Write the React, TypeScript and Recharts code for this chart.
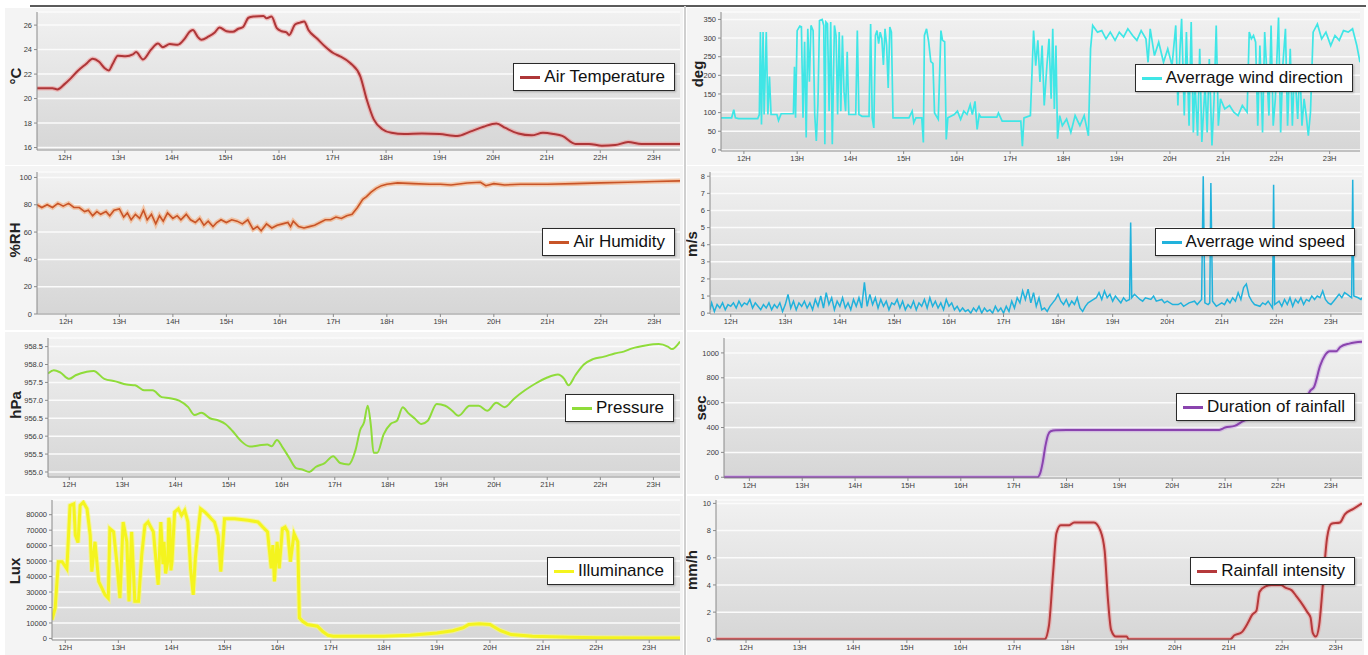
import { LineChart, Line, XAxis, YAxis, CartesianGrid } from 'recharts';

// hours shown on every x axis
const hourTicks = [12, 13, 14, 15, 16, 17, 18, 19, 20, 21, 22, 23];

const airTemperature: [number, number][] = [
  [11.48, 20.85], [11.77, 20.85], [11.86, 20.75], [12.0, 21.2], [12.11, 21.65], [12.24, 22.25], [12.39, 22.8],
  [12.52, 23.25], [12.64, 23.0], [12.74, 22.5], [12.82, 22.3], [12.89, 22.8], [12.99, 23.5], [13.14, 23.45],
  [13.27, 23.6], [13.33, 23.8], [13.46, 23.2], [13.61, 24.0], [13.74, 24.5], [13.83, 24.2], [13.96, 24.45],
  [14.11, 24.4], [14.24, 24.9], [14.33, 25.45], [14.39, 25.6], [14.49, 25.0], [14.55, 24.8], [14.68, 25.05],
  [14.8, 25.4], [14.89, 25.8], [15.02, 25.5], [15.14, 25.45], [15.24, 25.7], [15.33, 25.85], [15.43, 26.6],
  [15.52, 26.7], [15.71, 26.75], [15.77, 26.55], [15.86, 26.7], [15.96, 25.75], [16.05, 25.5], [16.14, 25.4],
  [16.19, 25.2], [16.3, 26.05], [16.39, 26.2], [16.47, 26.3], [16.55, 25.6], [16.71, 24.9], [16.86, 24.25],
  [17.02, 23.7], [17.14, 23.45], [17.33, 22.9], [17.52, 21.8], [17.64, 19.9], [17.77, 18.3], [17.93, 17.5],
  [18.1, 17.2], [18.34, 17.1], [18.67, 17.15], [19.0, 17.1], [19.33, 16.95], [19.57, 17.3], [19.82, 17.7],
  [20.06, 17.97], [20.23, 17.6], [20.47, 17.15], [20.72, 17.0], [20.93, 17.2], [21.13, 17.1], [21.29, 16.95],
  [21.54, 16.3], [21.79, 16.3], [22.03, 16.15], [22.28, 16.2], [22.52, 16.45], [22.77, 16.3], [23.1, 16.3],
  [23.49, 16.3],
];

const airHumidity: [number, number][] = [
  [11.46, 80], [11.55, 78], [11.65, 80], [11.75, 78], [11.85, 81], [11.95, 79], [12.05, 81], [12.15, 78],
  [12.25, 78], [12.35, 75], [12.42, 76], [12.5, 72], [12.58, 75], [12.65, 73], [12.75, 75], [12.82, 72],
  [12.9, 76], [13.0, 77], [13.08, 71], [13.15, 74], [13.22, 69], [13.3, 73], [13.38, 70], [13.45, 76],
  [13.52, 69], [13.6, 73], [13.68, 66], [13.75, 72], [13.82, 68], [13.9, 74], [14.0, 70], [14.08, 72],
  [14.15, 69], [14.25, 73], [14.33, 69], [14.42, 67], [14.5, 70], [14.58, 65], [14.66, 68], [14.75, 64],
  [14.82, 67], [14.9, 69], [15.0, 67], [15.1, 69], [15.2, 68], [15.3, 66], [15.4, 69], [15.5, 62],
  [15.58, 64], [15.65, 61], [15.75, 66], [15.85, 63], [15.95, 65], [16.05, 66], [16.15, 67], [16.2, 64],
  [16.25, 68], [16.35, 64], [16.45, 63], [16.55, 64], [16.65, 65], [16.75, 67], [16.85, 69], [16.95, 69],
  [17.05, 71], [17.15, 70], [17.25, 72], [17.35, 73], [17.45, 78], [17.55, 84], [17.62, 86], [17.7, 89],
  [17.8, 92], [17.9, 94], [18.0, 95], [18.2, 96], [18.5, 95.5], [18.8, 95], [19.0, 95], [19.2, 94.5],
  [19.5, 96], [19.75, 96.5], [19.85, 94], [20.0, 95.5], [20.2, 94.5], [20.5, 95], [21.0, 95], [21.5, 95.5],
  [22.0, 96], [22.5, 96.5], [23.0, 97], [23.48, 97.5],
];

const pressure: [number, number][] = [
  [11.6, 957.75], [11.71, 957.84], [11.83, 957.78], [12.0, 957.6], [12.12, 957.7], [12.33, 957.8],
  [12.46, 957.82], [12.66, 957.6], [12.87, 957.53], [13.08, 957.44], [13.24, 957.42], [13.41, 957.28],
  [13.57, 957.28], [13.74, 957.09], [13.9, 957.06], [14.07, 956.99], [14.24, 956.81], [14.36, 956.59],
  [14.49, 956.65], [14.65, 956.5], [14.82, 956.43], [14.94, 956.34], [15.07, 956.15], [15.23, 955.87],
  [15.4, 955.71], [15.56, 955.74], [15.73, 955.77], [15.81, 955.72], [15.91, 955.89], [16.02, 955.68],
  [16.14, 955.4], [16.27, 955.11], [16.39, 955.07], [16.52, 955.0], [16.64, 955.14], [16.81, 955.25],
  [16.97, 955.44], [17.1, 955.25], [17.26, 955.21], [17.39, 955.61], [17.48, 956.18], [17.55, 956.38],
  [17.62, 956.85], [17.68, 956.29], [17.73, 955.54], [17.8, 955.54], [17.92, 956.05], [18.05, 956.34],
  [18.17, 956.43], [18.28, 956.81], [18.38, 956.65], [18.5, 956.5], [18.63, 956.34], [18.75, 956.43],
  [18.92, 956.9], [19.08, 956.85], [19.21, 956.71], [19.33, 956.57], [19.54, 956.85], [19.71, 956.85],
  [19.87, 956.71], [20.04, 956.93], [20.2, 956.81], [20.37, 957.04], [20.58, 957.28], [20.78, 957.47],
  [20.99, 957.63], [21.2, 957.72], [21.32, 957.6], [21.4, 957.42], [21.53, 957.7], [21.69, 958.0],
  [21.86, 958.15], [22.07, 958.22], [22.27, 958.31], [22.44, 958.36], [22.6, 958.45], [22.85, 958.53],
  [23.1, 958.57], [23.27, 958.5], [23.35, 958.43], [23.5, 958.64],
];

const illuminance: [number, number][] = [
  [11.75, 12000], [11.81, 19700], [11.87, 49600], [11.94, 49600], [12.03, 45000], [12.09, 86000], [12.16, 87000],
  [12.19, 66700], [12.24, 62000], [12.28, 86000], [12.34, 88000], [12.41, 83800], [12.47, 66700], [12.5, 43200],
  [12.56, 62500], [12.63, 36800], [12.69, 32500], [12.75, 28200], [12.81, 26000], [12.84, 71000], [12.91, 68900],
  [12.97, 49600], [13.03, 26000], [13.09, 75300], [13.16, 62500], [13.2, 24000], [13.25, 68900], [13.31, 24000],
  [13.38, 24000], [13.44, 53900], [13.5, 73200], [13.56, 75300], [13.66, 68900], [13.75, 34700], [13.8, 75300],
  [13.84, 48000], [13.86, 62500], [13.89, 42000], [13.93, 49600], [13.95, 78000], [13.97, 73200], [13.99, 44000],
  [14.01, 49600], [14.06, 81700], [14.13, 83800], [14.19, 79600], [14.25, 82800], [14.31, 75300], [14.36, 45300],
  [14.41, 28200], [14.45, 51800], [14.5, 68900], [14.55, 83800], [14.63, 81700], [14.69, 79600], [14.75, 77400],
  [14.81, 75300], [14.88, 66700], [14.93, 43200], [14.97, 62500], [15.0, 77400], [15.19, 77400], [15.44, 76400],
  [15.63, 75300], [15.72, 72000], [15.81, 68900], [15.88, 45300], [15.91, 60300], [15.94, 36800], [15.99, 62500],
  [16.03, 45300], [16.09, 71000], [16.14, 72000], [16.19, 68900], [16.24, 49600], [16.31, 67800], [16.38, 62500],
  [16.41, 13300], [16.47, 11100], [16.56, 9000], [16.75, 7900], [16.85, 4500], [16.95, 2000], [17.05, 1500],
  [17.5, 1500], [18.0, 1500], [18.5, 2000], [19.0, 3500], [19.3, 5000], [19.5, 7000], [19.6, 9000],
  [19.8, 9500], [20.0, 9000], [20.2, 5000], [20.4, 2500], [20.8, 1500], [21.5, 800], [22.0, 500],
  [23.0, 300], [23.58, 300],
];

const windDirection: [number, number][] = [
  [11.57, 86], [11.77, 86], [11.81, 108], [11.84, 86], [11.9, 84], [12.26, 84], [12.29, 95], [12.31, 316],
  [12.33, 68], [12.36, 316], [12.38, 95], [12.42, 316], [12.45, 95], [12.48, 197], [12.51, 95], [12.62, 95],
  [12.65, 79], [12.7, 97], [12.93, 97], [12.95, 223], [12.97, 86], [13.0, 320], [13.05, 332], [13.08, 330],
  [13.11, 86], [13.14, 290], [13.17, 33], [13.2, 325], [13.23, 183], [13.26, 334], [13.3, 320], [13.33, 95],
  [13.36, 24], [13.39, 121], [13.42, 347], [13.47, 350], [13.5, 334], [13.52, 15], [13.54, 343], [13.57, 338],
  [13.6, 104], [13.63, 343], [13.66, 15], [13.7, 334], [13.73, 307], [13.76, 95], [13.79, 316], [13.82, 104],
  [13.85, 307], [13.88, 157], [13.91, 104], [13.94, 263], [13.97, 95], [14.1, 95], [14.13, 320], [14.16, 95],
  [14.22, 90], [14.35, 90], [14.38, 338], [14.41, 86], [14.44, 59], [14.47, 307], [14.5, 320], [14.53, 285],
  [14.56, 316], [14.59, 299], [14.62, 228], [14.65, 325], [14.68, 281], [14.71, 166], [14.74, 330], [14.77, 316],
  [14.8, 86], [15.1, 86], [15.16, 104], [15.19, 73], [15.23, 86], [15.34, 86], [15.37, 20], [15.39, 307],
  [15.43, 325], [15.47, 290], [15.51, 237], [15.55, 232], [15.58, 99], [15.65, 82], [15.7, 320], [15.73, 294],
  [15.77, 290], [15.8, 28], [15.83, 86], [15.95, 95], [16.01, 104], [16.07, 82], [16.13, 104], [16.19, 95],
  [16.25, 121], [16.29, 95], [16.34, 130], [16.38, 55], [16.42, 95], [16.45, 88], [16.75, 88], [16.78, 99],
  [16.85, 77], [17.2, 77], [17.23, 10], [17.26, 86], [17.38, 92], [17.44, 320], [17.48, 226], [17.52, 294],
  [17.56, 182], [17.6, 280], [17.64, 119], [17.69, 226], [17.73, 298], [17.77, 137], [17.8, 325], [17.83, 110],
  [17.86, 280], [17.89, 30], [17.93, 92], [17.98, 65], [18.06, 83], [18.14, 47], [18.22, 92], [18.31, 65],
  [18.39, 92], [18.47, 38], [18.51, 271], [18.55, 334], [18.64, 316], [18.72, 320], [18.8, 298], [18.88, 316],
  [18.97, 294], [19.05, 316], [19.13, 303], [19.21, 325], [19.3, 307], [19.38, 294], [19.46, 320], [19.55, 298],
  [19.59, 235], [19.63, 325], [19.71, 253], [19.79, 289], [19.88, 235], [19.96, 271], [20.04, 226], [20.11, 334],
  [20.15, 119], [20.19, 271], [20.22, 352], [20.27, 92], [20.31, 316], [20.36, 65], [20.4, 343], [20.44, 47],
  [20.47, 182], [20.52, 38], [20.56, 271], [20.6, 21], [20.66, 173], [20.7, 47], [20.74, 244], [20.79, 12],
  [20.83, 137], [20.87, 334], [20.91, 65], [20.95, 137], [21.03, 110], [21.12, 119], [21.2, 101], [21.28, 92],
  [21.36, 119], [21.45, 101], [21.49, 316], [21.53, 298], [21.57, 307], [21.61, 289], [21.65, 65], [21.69, 280],
  [21.74, 47], [21.78, 316], [21.82, 208], [21.86, 92], [21.9, 334], [21.94, 65], [21.98, 137], [22.04, 355],
  [22.08, 47], [22.12, 226], [22.17, 325], [22.21, 65], [22.26, 271], [22.3, 65], [22.34, 226], [22.4, 83],
  [22.44, 226], [22.48, 65], [22.52, 137], [22.56, 92], [22.6, 38], [22.64, 101], [22.69, 316], [22.77, 338],
  [22.85, 298], [22.93, 316], [23.02, 280], [23.1, 307], [23.18, 294], [23.26, 320], [23.35, 316], [23.43, 325],
  [23.51, 280], [23.57, 235],
];

const windSpeed: [number, number][] = [
  [11.62, 0.2], [11.65, 0.6], [11.7, 0.1], [11.75, 0.5], [11.8, 0.3], [11.85, 0.6], [11.9, 0.2], [11.95, 0.5],
  [12.0, 0.4], [12.05, 0.6], [12.1, 0.3], [12.15, 0.7], [12.2, 0.4], [12.25, 0.6], [12.3, 0.5], [12.35, 0.8],
  [12.4, 0.3], [12.45, 0.6], [12.5, 0.4], [12.55, 0.2], [12.6, 0.5], [12.65, 0.3], [12.7, 0.6], [12.75, 0.2],
  [12.8, 0.5], [12.85, 0.3], [12.9, 0.6], [12.95, 0.1], [13.0, 0.5], [13.05, 1.1], [13.1, 0.3], [13.15, 0.7],
  [13.2, 0.2], [13.25, 0.6], [13.3, 0.4], [13.35, 0.7], [13.4, 0.3], [13.45, 0.6], [13.5, 0.2], [13.55, 0.8],
  [13.6, 0.4], [13.65, 1.0], [13.7, 0.3], [13.75, 1.2], [13.8, 0.5], [13.85, 0.9], [13.9, 0.2], [13.95, 0.7],
  [14.0, 0.4], [14.05, 0.9], [14.1, 0.3], [14.15, 0.6], [14.2, 0.2], [14.25, 0.8], [14.3, 0.4], [14.35, 0.9],
  [14.4, 0.3], [14.45, 1.8], [14.5, 0.4], [14.55, 1.1], [14.6, 0.5], [14.65, 0.9], [14.7, 0.3], [14.75, 0.8],
  [14.8, 0.4], [14.85, 0.7], [14.9, 0.2], [14.95, 0.6], [15.0, 0.5], [15.05, 0.8], [15.1, 0.3], [15.15, 0.7],
  [15.2, 0.2], [15.25, 0.5], [15.3, 0.3], [15.35, 0.7], [15.4, 0.2], [15.45, 0.6], [15.5, 0.4], [15.55, 0.8],
  [15.6, 0.3], [15.65, 0.9], [15.7, 0.4], [15.75, 0.7], [15.8, 0.3], [15.85, 0.6], [15.9, 0.2], [15.95, 0.8],
  [16.0, 0.4], [16.05, 0.6], [16.1, 0.2], [16.15, 0.4], [16.2, 0.1], [16.25, 0.3], [16.3, 0.1], [16.35, 0.2],
  [16.4, 0.0], [16.45, 0.3], [16.5, 0.1], [16.55, 0.4], [16.6, 0.0], [16.65, 0.3], [16.7, 0.1], [16.75, 0.2],
  [16.8, 0.0], [16.85, 0.4], [16.9, 0.1], [16.95, 0.3], [17.0, 0.0], [17.05, 0.4], [17.1, 0.1], [17.15, 0.7],
  [17.2, 0.3], [17.25, 0.9], [17.3, 0.6], [17.35, 1.3], [17.4, 0.8], [17.45, 1.4], [17.5, 0.6], [17.55, 1.2],
  [17.6, 0.4], [17.65, 0.9], [17.7, 0.2], [17.75, 0.3], [17.8, 0.1], [17.85, 0.4], [17.9, 0.6], [17.95, 0.8],
  [18.0, 1.1], [18.05, 0.7], [18.1, 0.5], [18.15, 0.8], [18.2, 0.4], [18.25, 0.7], [18.3, 0.5], [18.35, 0.9],
  [18.4, 0.3], [18.45, 0.1], [18.5, 0.4], [18.55, 0.6], [18.6, 0.7], [18.65, 0.8], [18.7, 0.9], [18.75, 1.2],
  [18.8, 0.8], [18.85, 1.3], [18.9, 0.9], [18.95, 1.1], [19.0, 0.7], [19.05, 1.0], [19.1, 0.8], [19.15, 0.6],
  [19.2, 0.9], [19.25, 0.7], [19.31, 0.8], [19.33, 5.3], [19.35, 0.9], [19.4, 1.1], [19.5, 0.8], [19.55, 0.7],
  [19.6, 0.9], [19.7, 0.8], [19.75, 1.0], [19.8, 0.7], [19.9, 0.8], [19.95, 0.6], [20.0, 0.7], [20.1, 0.5],
  [20.2, 0.5], [20.25, 0.6], [20.3, 0.4], [20.4, 0.6], [20.5, 0.7], [20.55, 0.5], [20.63, 0.8], [20.66, 8.0],
  [20.69, 0.6], [20.75, 0.5], [20.78, 0.6], [20.8, 7.6], [20.83, 0.7], [20.9, 0.4], [21.0, 0.6], [21.05, 0.5],
  [21.1, 0.8], [21.15, 0.6], [21.2, 0.9], [21.25, 0.7], [21.3, 1.2], [21.35, 0.8], [21.4, 1.5], [21.45, 1.7],
  [21.5, 1.0], [21.55, 0.7], [21.6, 0.5], [21.7, 0.4], [21.75, 0.6], [21.8, 0.5], [21.85, 0.7], [21.93, 0.3],
  [21.95, 7.5], [21.97, 0.5], [22.05, 0.7], [22.1, 0.4], [22.15, 0.8], [22.2, 0.5], [22.25, 0.9], [22.3, 0.4],
  [22.35, 0.8], [22.4, 0.6], [22.45, 0.9], [22.5, 0.5], [22.55, 0.8], [22.6, 0.7], [22.65, 1.0], [22.7, 0.8],
  [22.75, 1.0], [22.8, 0.9], [22.85, 1.3], [22.9, 0.8], [22.95, 0.6], [23.0, 0.5], [23.05, 0.7], [23.1, 0.9],
  [23.15, 1.1], [23.2, 0.9], [23.25, 1.2], [23.3, 1.1], [23.38, 0.9], [23.4, 7.8], [23.42, 1.0], [23.5, 0.9],
  [23.55, 0.8], [23.57, 0.9],
];

const rainDuration: [number, number][] = [
  [11.52, 0], [17.45, 0], [17.5, 30], [17.55, 120], [17.6, 250], [17.65, 340], [17.7, 370], [17.8, 378],
  [18.0, 380], [19.0, 380], [20.0, 380], [20.89, 381], [21.0, 400], [21.18, 413], [21.35, 454], [21.5, 480],
  [22.0, 520], [22.4, 580], [22.55, 650], [22.62, 700], [22.68, 724], [22.8, 900], [22.89, 981], [22.98, 1013],
  [23.1, 1013], [23.18, 1048], [23.35, 1075], [23.59, 1089],
];

const rainIntensity: [number, number][] = [
  [11.44, 0], [17.57, 0], [17.65, 1.0], [17.73, 5.0], [17.79, 7.8], [17.87, 8.4], [18.03, 8.4], [18.12, 8.6],
  [18.49, 8.6], [18.61, 8.0], [18.69, 6.5], [18.75, 3.0], [18.81, 0.7], [18.9, 0.2], [19.1, 0.2], [19.14, 0],
  [21.03, 0], [21.11, 0.3], [21.24, 0.5], [21.36, 1.2], [21.44, 1.8], [21.52, 2.1], [21.58, 3.5], [21.69, 3.9],
  [21.81, 4.0], [21.98, 4.0], [22.06, 3.8], [22.18, 3.6], [22.26, 3.2], [22.39, 2.5], [22.47, 2.0], [22.53, 1.6],
  [22.57, 0.5], [22.63, 0.2], [22.69, 1.0], [22.76, 4.0], [22.84, 7.5], [22.92, 8.5], [23.08, 8.6], [23.17, 9.2],
  [23.33, 9.6], [23.49, 10.0],
];

const fontFamily = '"Liberation Sans", Arial, sans-serif';
const tickFont = { fontSize: 7.5, fill: '#3a3a3a', fontFamily };

type PanelProps = {
  left: number; top: number; width: number; height: number;
  plot: [number, number, number, number]; // left, top, right, bottom (page px)
  points: [number, number][];
  xDomain: [number, number];
  yDomain: [number, number];
  yTicks: number[];
  yFormat?: (v: number) => string;
  color: string;
  halo?: string;
  haloExtra?: number;
  strokeWidth: number;
  curve: 'linear' | 'monotone';
  unit: string;
  unitPos: [number, number];
  name: string;
  legendBox: [number, number]; // right, top (page px)
};

const Panel = (p: PanelProps) => {
  const [pl, pt, pr, pb] = p.plot;
  const rows = p.points.map(([t, v]) => ({ t, v }));
  return (
    <div style={{ position: 'absolute', left: p.left, top: p.top, width: p.width, height: p.height, background: '#f4f4f4' }}>
      <div
        style={{
          position: 'absolute', left: pl - p.left, top: pt - p.top, width: pr - pl, height: pb - pt,
          background: 'linear-gradient(#f1f1f1, #d6d6d6)',
        }}
      />
      <div
        style={{
          position: 'absolute', left: p.unitPos[0] - p.left, top: p.unitPos[1] - p.top,
          transform: 'translate(-50%, -50%) rotate(-90deg)', fontFamily,
          fontWeight: 'bold', fontSize: 15, color: '#222', whiteSpace: 'nowrap',
        }}
      >
        {p.unit}
      </div>
      <div style={{ position: 'absolute', left: 0, top: 0 }}>
        <LineChart
          width={p.width}
          height={p.height}
          data={rows}
          margin={{ top: pt - p.top, right: p.left + p.width - pr, bottom: 0, left: 0 }}
        >
          <CartesianGrid vertical={false} stroke="#fbfbfb" strokeWidth={1.5} />
          <XAxis
            type="number"
            dataKey="t"
            domain={p.xDomain}
            ticks={hourTicks}
            interval={0}
            allowDataOverflow
            tickFormatter={(h: number) => `${h}H`}
            tick={tickFont}
            tickSize={3}
            height={p.top + p.height - pb}
            stroke="#8a8a8a"
          />
          <YAxis
            type="number"
            domain={p.yDomain}
            ticks={p.yTicks}
            interval={0}
            allowDataOverflow
            tickFormatter={p.yFormat}
            tick={tickFont}
            tickSize={3}
            width={pl - p.left}
            stroke="#8a8a8a"
          />
          {p.halo && (
            <Line type={p.curve} dataKey="v" stroke={p.halo} strokeWidth={p.strokeWidth + (p.haloExtra ?? 2.5)} dot={false} isAnimationActive={false} />
          )}
          <Line type={p.curve} dataKey="v" name={p.name} stroke={p.color} strokeWidth={p.strokeWidth} dot={false} isAnimationActive={false} />
        </LineChart>
      </div>
      {/* legend box, drawn over the plot like the original */}
      <div
        style={{
          position: 'absolute', right: p.left + p.width - p.legendBox[0], top: p.legendBox[1] - p.top,
          display: 'flex', alignItems: 'center', background: '#fff', border: '1.5px solid #2a2a2a',
          height: 26, padding: '0 9px 0 6px', boxShadow: '1px 1px 2px rgba(0,0,0,0.25)',
          fontFamily, fontSize: 17, color: '#111', whiteSpace: 'nowrap',
        }}
      >
        <span style={{ display: 'inline-block', width: 20, height: 3, background: p.color, marginRight: 4 }} />
        {p.name}
      </div>
    </div>
  );
};

const App = () => (
  <div style={{ position: 'absolute', left: 0, top: 0, width: 1368, height: 655, background: '#fff', overflow: 'hidden' }}>
    <Panel left={5} top={8} width={678} height={157} plot={[37, 12, 680, 150]} points={airTemperature}
      xDomain={[11.48, 23.49]} yDomain={[15.8, 27.07]} yTicks={[16, 18, 20, 22, 24, 26]}
      color="#ae3638" halo="rgba(240,150,150,0.55)" strokeWidth={2} curve="monotone"
      unit="°C" unitPos={[15, 76]} name="Air Temperature" legendBox={[675, 63]} />
    <Panel left={5} top={166} width={678} height={164} plot={[37, 172, 680, 314]} points={airHumidity}
      xDomain={[11.46, 23.48]} yDomain={[0, 104]} yTicks={[0, 20, 40, 60, 80, 100]}
      color="#c85427" halo="rgba(245,170,120,0.6)" haloExtra={3} strokeWidth={1.6} curve="linear"
      unit="%RH" unitPos={[14, 240]} name="Air Humidity" legendBox={[675, 228]} />
    <Panel left={5} top={332} width={678} height={162} plot={[48, 338, 680, 477]} points={pressure}
      xDomain={[11.6, 23.5]} yDomain={[954.86, 958.74]} yTicks={[955, 955.5, 956, 956.5, 957, 957.5, 958, 958.5]}
      yFormat={(v: number) => v.toFixed(1)}
      color="#8fdc3a" strokeWidth={2} curve="monotone"
      unit="hPa" unitPos={[15, 405]} name="Pressure" legendBox={[674, 394]} />
    <Panel left={5} top={496} width={678} height={159} plot={[52, 500, 680, 640]} points={illuminance}
      xDomain={[11.75, 23.58]} yDomain={[-1000, 89500]}
      yTicks={[0, 10000, 20000, 30000, 40000, 50000, 60000, 70000, 80000]}
      color="#f4f41e" halo="rgba(246,246,130,0.7)" haloExtra={2} strokeWidth={3} curve="linear"
      unit="Lux" unitPos={[14, 571]} name="Illuminance" legendBox={[674, 557]} />

    <Panel left={687} top={8} width={677} height={157} plot={[721, 12, 1360, 151]} points={windDirection}
      xDomain={[11.57, 23.57]} yDomain={[-3, 370]} yTicks={[0, 50, 100, 150, 200, 250, 300, 350]}
      color="#3fe6e6" strokeWidth={1.7} curve="linear"
      unit="deg" unitPos={[697, 74]} name="Averrage wind direction" legendBox={[1353, 64]} />
    <Panel left={687} top={166} width={677} height={164} plot={[710, 172, 1362, 314]} points={windSpeed}
      xDomain={[11.62, 23.57]} yDomain={[-0.05, 8.25]} yTicks={[0, 1, 2, 3, 4, 5, 6, 7, 8]}
      color="#21b2dc" strokeWidth={1.5} curve="linear"
      unit="m/s" unitPos={[691, 244]} name="Averrage wind speed" legendBox={[1355, 228]} />
    <Panel left={687} top={332} width={677} height={162} plot={[724, 338, 1362, 478]} points={rainDuration}
      xDomain={[11.52, 23.59]} yDomain={[-6, 1120]} yTicks={[0, 200, 400, 600, 800, 1000]}
      color="#8a44ae" halo="rgba(200,160,225,0.5)" strokeWidth={2} curve="monotone"
      unit="sec" unitPos={[700, 408]} name="Duration of rainfall" legendBox={[1355, 393]} />
    <Panel left={687} top={496} width={677} height={159} plot={[716, 500, 1362, 640]} points={rainIntensity}
      xDomain={[11.44, 23.49]} yDomain={[-0.05, 10.25]} yTicks={[0, 2, 4, 6, 8, 10]}
      color="#b5393b" halo="rgba(240,150,150,0.5)" strokeWidth={2} curve="monotone"
      unit="mm/h" unitPos={[691, 570]} name="Rainfall intensity" legendBox={[1355, 557]} />

    <div style={{ position: 'absolute', left: 30, top: 5, width: 1336, height: 2, background: '#5a5a5a' }} />
    <div style={{ position: 'absolute', left: 684, top: 6, width: 2, height: 649, background: '#d0d0d0' }} />
  </div>
);

export default App;
